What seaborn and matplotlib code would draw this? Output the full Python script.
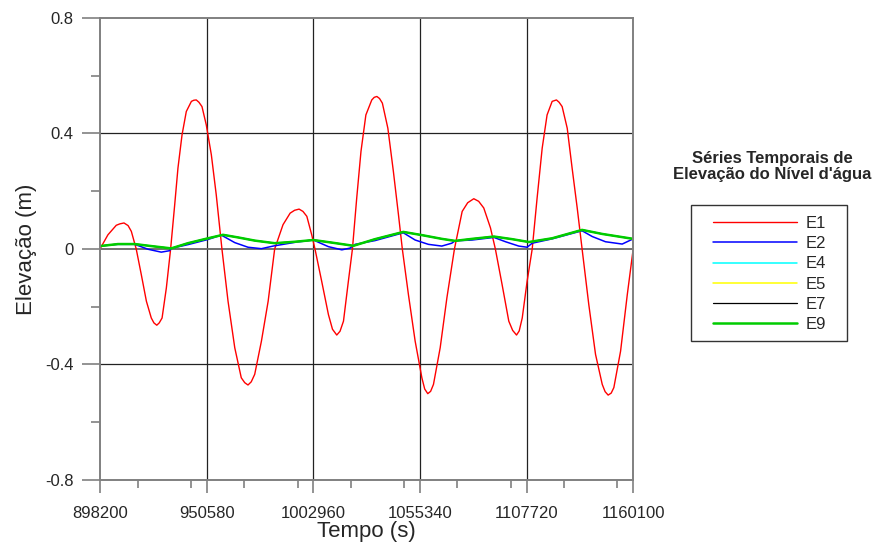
import numpy as np
import pandas as pd
import matplotlib
matplotlib.use("Agg")
import matplotlib.pyplot as plt
import seaborn as sns
from matplotlib.ticker import MultipleLocator, FixedLocator
from matplotlib.patches import Rectangle

# valores: tempo (s) e elevacao (m)
tempo_e1 = [898200, 902100, 906200, 908000, 910000, 912000, 913600, 916000, 918500, 921000,
            923400, 924700, 926100, 927300, 928700, 930800, 932900, 934900, 936500, 938500,
            940600, 943100, 944300, 945500, 946800, 948300, 950400, 952900, 955300, 958100,
            961100, 964400, 967600, 969300, 970900, 972500, 974200, 977500, 980800, 984000,
            988100, 991600, 993800, 996000, 997900, 999800, 1002200, 1003800, 1007100, 1010400,
            1012400, 1014500, 1016100, 1017800, 1020200, 1022200, 1024300, 1026400, 1028800, 1031700,
            1032900, 1034200, 1035500, 1036900, 1039600, 1042300, 1044800, 1046700, 1049700, 1053000,
            1056300, 1057700, 1059200, 1060600, 1062000, 1065300, 1068600, 1072300, 1076100, 1078800,
            1081800, 1084200, 1086700, 1090000, 1092400, 1095700, 1099000, 1100900, 1102800, 1104100,
            1105600, 1108000, 1110500, 1112900, 1115400, 1117800, 1120300, 1122400, 1123700, 1125200,
            1127700, 1130100, 1132600, 1135000, 1138300, 1141600, 1144900, 1146300, 1147800, 1149300,
            1150600, 1153900, 1157200, 1160100]
elev_e1 = [0.000, 0.049, 0.082, 0.087, 0.090, 0.081, 0.061, 0.000, -0.089, -0.181,
           -0.239, -0.256, -0.264, -0.256, -0.239, -0.135, 0.000, 0.153, 0.280, 0.395,
           0.476, 0.511, 0.515, 0.516, 0.508, 0.493, 0.430, 0.326, 0.188, 0.000,
           -0.181, -0.342, -0.446, -0.463, -0.471, -0.460, -0.434, -0.319, -0.181, 0.000,
           0.084, 0.124, 0.134, 0.138, 0.130, 0.113, 0.049, 0.000, -0.112, -0.227,
           -0.278, -0.298, -0.285, -0.250, -0.112, 0.000, 0.176, 0.338, 0.464, 0.516,
           0.525, 0.528, 0.521, 0.505, 0.418, 0.269, 0.119, 0.000, -0.158, -0.319,
           -0.446, -0.485, -0.501, -0.493, -0.469, -0.342, -0.169, 0.000, 0.130, 0.160,
           0.174, 0.165, 0.142, 0.073, 0.000, -0.123, -0.250, -0.282, -0.298, -0.284,
           -0.239, -0.112, 0.000, 0.176, 0.349, 0.464, 0.511, 0.516, 0.508, 0.493,
           0.418, 0.280, 0.142, 0.000, -0.193, -0.365, -0.469, -0.494, -0.506, -0.499,
           -0.480, -0.354, -0.158, 0.000]

tempo_e2 = [898200, 907000, 915300, 921800, 928300, 932400, 933200, 941400, 951300, 957800,
            964400, 970900, 977500, 983200, 994000, 1003000, 1010400, 1017000, 1021000, 1023500,
            1033300, 1047200, 1053000, 1059500, 1066100, 1071000, 1072600, 1081000, 1091700, 1097400,
            1103900, 1108000, 1110500, 1120300, 1135000, 1140000, 1146500, 1154700, 1160100]
elev_e2 = [0.010, 0.016, 0.016, -0.001, -0.011, -0.006, 0.002, 0.015, 0.033, 0.048,
           0.022, 0.006, 0.001, 0.010, 0.023, 0.031, 0.008, -0.003, 0.003, 0.016,
           0.029, 0.056, 0.031, 0.016, 0.010, 0.020, 0.028, 0.031, 0.040, 0.025,
           0.010, 0.006, 0.020, 0.035, 0.063, 0.043, 0.025, 0.017, 0.035]

# E4, E5, E7 e E9 praticamente coincidem
tempo_e9 = [898200, 907000, 915300, 923400, 933200, 941400, 951300, 958600, 966000, 974200,
            984000, 994000, 1003000, 1012100, 1022700, 1033300, 1047200, 1056300, 1066100, 1072600,
            1081000, 1091700, 1100600, 1108900, 1120300, 1135000, 1144900, 1160100]
elev_e9 = [0.010, 0.017, 0.017, 0.010, 0.002, 0.020, 0.037, 0.049, 0.040, 0.029,
           0.020, 0.025, 0.031, 0.022, 0.011, 0.034, 0.059, 0.048, 0.035, 0.028,
           0.035, 0.043, 0.034, 0.024, 0.037, 0.066, 0.052, 0.035]

series = ["E1", "E2", "E4", "E5", "E7", "E9"]
dados = {
    "E1": (tempo_e1, elev_e1),
    "E2": (tempo_e2, elev_e2),
    "E4": (tempo_e9, elev_e9),
    "E5": (tempo_e9, elev_e9),
    "E7": (tempo_e9, elev_e9),
    "E9": (tempo_e9, elev_e9),
}
cores = {"E1": "#ff0000", "E2": "#0000ff", "E4": "#00ffff",
         "E5": "#ffff00", "E7": "#000000", "E9": "#00cc00"}
larguras = {"E1": 1.0, "E2": 1.1, "E4": 1.1, "E5": 1.1, "E7": 0.9, "E9": 1.8}

xticks = [898200, 950580, 1002960, 1055340, 1107720, 1160100]
yticks = [-0.8, -0.4, 0, 0.4, 0.8]
ytick_labels = ["-0.8", "-0.4", "0", "0.4", "0.8"]

sns.set_style("white")
plt.rcParams["font.family"] = ["Liberation Sans", "DejaVu Sans"]

fig = plt.figure(figsize=(8.77, 5.43), dpi=100)
ax = fig.add_axes([0.114, 0.116, 0.608, 0.851])

for s in series:
    t, e = dados[s]
    df = pd.DataFrame({"tempo": t, "elev": e})
    sns.lineplot(data=df, x="tempo", y="elev", ax=ax, color=cores[s],
                 linewidth=larguras[s], label=s, sort=False, estimator=None)

ax.set_xlim(898200, 1160100)
ax.set_ylim(-0.8, 0.8)
ax.xaxis.set_major_locator(FixedLocator(xticks))
ax.xaxis.set_minor_locator(MultipleLocator(26190))
ax.set_xticklabels([str(v) for v in xticks])
ax.yaxis.set_major_locator(FixedLocator(yticks))
ax.yaxis.set_minor_locator(MultipleLocator(0.2))
ax.set_yticklabels(ytick_labels)

for x in xticks[1:-1]:
    ax.axvline(x, color="#222222", lw=0.9, zorder=0.5)
for y in [-0.4, 0.0, 0.4]:
    ax.axhline(y, color="#222222" if y != 0 else "#666666",
               lw=0.9 if y != 0 else 1.3, zorder=0.5)

for sp in ax.spines.values():
    sp.set_color("#808080")
    sp.set_linewidth(1.4)

ax.tick_params(axis="x", which="major", direction="out", length=9.5, width=1.2,
               color="#808080", labelsize=12, pad=9, bottom=True)
ax.tick_params(axis="x", which="minor", direction="out", length=6, width=1.2,
               color="#808080", bottom=True)
ax.tick_params(axis="y", which="major", direction="out", length=13, width=1.2,
               color="#808080", labelsize=12, pad=6, left=True)
ax.tick_params(axis="y", which="minor", direction="out", length=6.5, width=1.2,
               color="#808080", left=True)

ax.set_xlabel("Tempo (s)", fontsize=16, labelpad=0.5)
ax.set_ylabel("Elevação (m)", fontsize=16, labelpad=6)

fig.text(0.881, 0.6934, "Séries Temporais de\nElevação do Nível d'água",
         ha="center", va="center", fontsize=12, fontweight="bold", linespacing=1.1)

leg = ax.legend(loc="upper left", bbox_to_anchor=(713 / 877, 0.602),
                bbox_transform=fig.transFigure, fontsize=12, frameon=False,
                handlelength=5.04, handletextpad=0.54, labelspacing=0.31,
                borderpad=0, borderaxespad=0)
fig.patches.append(Rectangle((691 / 877, 1 - 341 / 543), 156 / 877, 136 / 543,
                             transform=fig.transFigure, fill=False,
                             edgecolor="#333333", linewidth=1.0))

fig.savefig("out.png", dpi=100)
